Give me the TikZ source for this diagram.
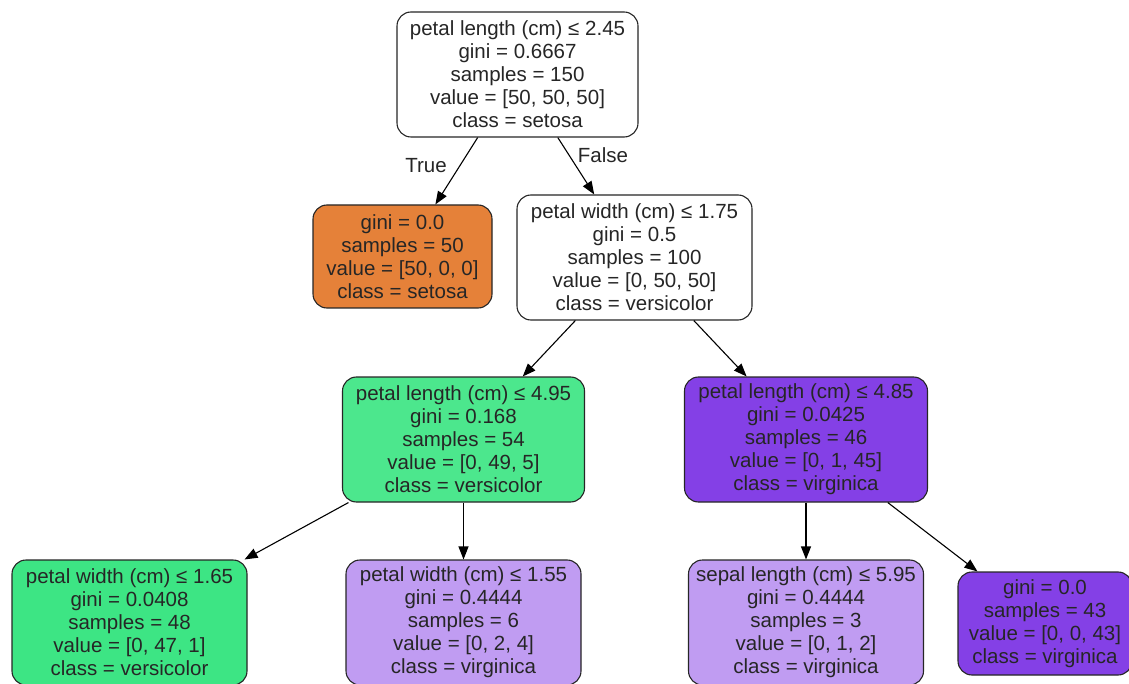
\documentclass[tikz,border=0pt]{standalone}
\usepackage{fontspec}
\setmainfont{Liberation Sans}
\usetikzlibrary{arrows.meta}
\definecolor{txt}{HTML}{262626}
\definecolor{setosa}{HTML}{E58139}
\definecolor{vers}{HTML}{3DE584}
\definecolor{versb}{HTML}{4CE78D}
\definecolor{virg}{HTML}{8440E6}
\definecolor{virgl}{HTML}{C09CF2}
\tikzset{
  tnode/.style={draw=black!85, line width=1.1pt, rounded corners=14pt, align=center,
    inner sep=0pt, text=txt, font=\fontsize{20.5}{23}\selectfont, minimum height=125pt},
  leafnode/.style={tnode, minimum height=103pt},
  edge/.style={line width=1.1pt, draw=black, -{Triangle[length=13pt,width=10pt]}},
  elabel/.style={text=txt, font=\fontsize{20.5}{23}\selectfont, inner sep=0pt}
}
\begin{document}
\begin{tikzpicture}[x=1pt,y=-1pt]
\useasboundingbox (0,0) rectangle (1129,684);
\node[tnode, fill=white, minimum width=241pt] (root) at (517.5,74.5)
  {petal length (cm) ≤ 2.45\\gini = 0.6667\\samples = 150\\value = [50, 50, 50]\\class = setosa};
\node[leafnode, fill=setosa, minimum width=179pt] (set) at (402.5,256.5)
  {gini = 0.0\\samples = 50\\value = [50, 0, 0]\\class = setosa};
\node[tnode, fill=white, minimum width=235pt] (pw175) at (634.5,257.5)
  {petal width (cm) ≤ 1.75\\gini = 0.5\\samples = 100\\value = [0, 50, 50]\\class = versicolor};
\node[tnode, fill=versb, minimum width=242pt] (pl495) at (463.5,439.5)
  {petal length (cm) ≤ 4.95\\gini = 0.168\\samples = 54\\value = [0, 49, 5]\\class = versicolor};
\node[tnode, fill=virg, minimum width=243pt] (pl485) at (806,439.5)
  {petal length (cm) ≤ 4.85\\gini = 0.0425\\samples = 46\\value = [0, 1, 45]\\class = virginica};
\node[tnode, fill=vers, minimum width=235pt] (pw165) at (129.5,622.5)
  {petal width (cm) ≤ 1.65\\gini = 0.0408\\samples = 48\\value = [0, 47, 1]\\class = versicolor};
\node[tnode, fill=virgl, minimum width=235pt] (pw155) at (463.5,622.5)
  {petal width (cm) ≤ 1.55\\gini = 0.4444\\samples = 6\\value = [0, 2, 4]\\class = virginica};
\node[tnode, fill=virgl, minimum width=235pt] (sl595) at (806,622.5)
  {sepal length (cm) ≤ 5.95\\gini = 0.4444\\samples = 3\\value = [0, 1, 2]\\class = virginica};
\node[leafnode, fill=virg, minimum width=174pt] (leaf43) at (1045,623.5)
  {gini = 0.0\\samples = 43\\value = [0, 0, 43]\\class = virginica};
\draw[edge] (root) -- (set);
\draw[edge] (root) -- (pw175);
\draw[edge] (pw175) -- (pl495);
\draw[edge] (pw175) -- (pl485);
\draw[edge] (pl495) -- (pw165);
\draw[edge] (pl495) -- (pw155);
\draw[edge] (pl485) -- (sl595);
\draw[edge] (pl485) -- (leaf43);
\node[elabel] (ltrue) at (426,166) {True};
\node[elabel] (lfalse) at (603,155) {False};
\end{tikzpicture}
\end{document}
